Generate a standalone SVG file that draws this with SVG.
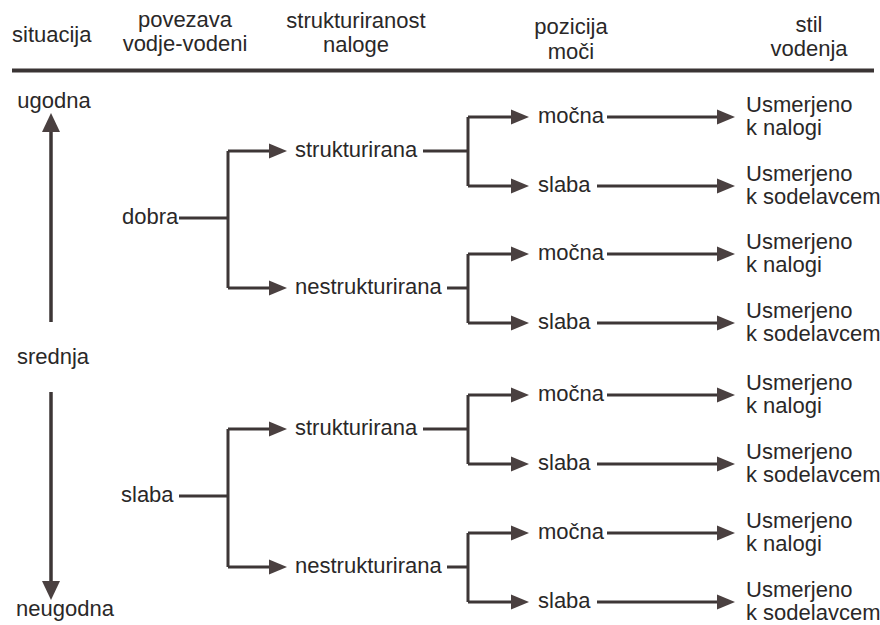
<svg xmlns="http://www.w3.org/2000/svg" width="880" height="625" viewBox="0 0 880 625">
<style>
text{font-family:"Liberation Sans",Arial,sans-serif;font-size:22px;fill:#2a2828}
.c{text-anchor:middle}
.ln{fill:none;stroke:#3d3636;stroke-width:3}
.ar{fill:none;stroke:#3d3636;stroke-width:3;marker-end:url(#ah)}
.va{fill:none;stroke:#3d3636;stroke-width:3.5;marker-end:url(#vh)}
</style>
<defs>
<marker id="ah" markerUnits="userSpaceOnUse" markerWidth="18" markerHeight="16" refX="0" refY="8" orient="auto">
<path d="M0,0.5 L18,8 L0,15.5 z" fill="#4a4040"/>
</marker>
<marker id="vh" markerUnits="userSpaceOnUse" markerWidth="19" markerHeight="19" refX="0" refY="9.5" orient="auto">
<path d="M0,0.5 L19,9.5 L0,18.5 z" fill="#4a4040"/>
</marker>
</defs>
<rect width="880" height="625" fill="#fff"/>
<g id="header">
<text x="12" y="42">situacija</text>
<text class="c" x="185" y="27">povezava</text>
<text class="c" x="185" y="51">vodje-vodeni</text>
<text class="c" x="356" y="28">strukturiranost</text>
<text class="c" x="356" y="52">naloge</text>
<text class="c" x="571" y="34">pozicija</text>
<text class="c" x="571" y="59">moči</text>
<text class="c" x="809" y="32">stil</text>
<text class="c" x="809" y="56">vodenja</text>
<line x1="12" y1="70.5" x2="874" y2="70.5" stroke="#3a3434" stroke-width="4"/>
</g>
<g id="axis-labels">
<text id="ugodna" class="c" x="54" y="108">ugodna</text>
<text id="srednja" class="c" x="53" y="364">srednja</text>
<text id="neugodna" class="c" x="65" y="616">neugodna</text>
</g>
<g id="connectors">
<path class="va" d="M51,322 V132"/>
<path class="va" d="M51,392 V581"/>
<path class="ln" d="M179,218 H228 M228,151 V288"/>
<path class="ar" d="M228,151 H269"/>
<path class="ar" d="M228,288 H269"/>
<path class="ln" d="M179,496 H228 M228,429 V567"/>
<path class="ar" d="M228,429 H269"/>
<path class="ar" d="M228,567 H269"/>
<path class="ln" d="M423,151 H468 M468,117 V186"/>
<path class="ar" d="M468,117 H511"/>
<path class="ar" d="M468,186 H511"/>
<path class="ln" d="M447,288 H468 M468,254 V323"/>
<path class="ar" d="M468,254 H511"/>
<path class="ar" d="M468,323 H511"/>
<path class="ln" d="M423,429 H468 M468,395 V464"/>
<path class="ar" d="M468,395 H511"/>
<path class="ar" d="M468,464 H511"/>
<path class="ln" d="M447,567 H468 M468,533 V602"/>
<path class="ar" d="M468,533 H511"/>
<path class="ar" d="M468,602 H511"/>
<path class="ar" d="M607,117 H717"/>
<path class="ar" d="M597,186 H717"/>
<path class="ar" d="M607,254 H717"/>
<path class="ar" d="M597,323 H717"/>
<path class="ar" d="M607,395 H717"/>
<path class="ar" d="M597,464 H717"/>
<path class="ar" d="M607,533 H717"/>
<path class="ar" d="M597,602 H717"/>
</g>
<g id="n-dobra"><text x="122" y="224">dobra</text></g>
<g id="n-slaba"><text x="121" y="502">slaba</text></g>
<g id="n-str1"><text x="295" y="157">strukturirana</text></g>
<g id="n-nestr1"><text x="295" y="294">nestrukturirana</text></g>
<g id="n-str2"><text x="295" y="435">strukturirana</text></g>
<g id="n-nestr2"><text x="295" y="573">nestrukturirana</text></g>
<g id="n-m1"><text x="538" y="123">močna</text></g>
<g id="n-s1"><text x="538" y="192">slaba</text></g>
<g id="n-m2"><text x="538" y="260">močna</text></g>
<g id="n-s2"><text x="538" y="329">slaba</text></g>
<g id="n-m3"><text x="538" y="401">močna</text></g>
<g id="n-s3"><text x="538" y="470">slaba</text></g>
<g id="n-m4"><text x="538" y="539">močna</text></g>
<g id="n-s4"><text x="538" y="608">slaba</text></g>
<g id="r1"><text x="746" y="112">Usmerjeno</text><text x="746" y="135">k nalogi</text></g>
<g id="r2"><text x="746" y="181">Usmerjeno</text><text x="746" y="204">k sodelavcem</text></g>
<g id="r3"><text x="746" y="249">Usmerjeno</text><text x="746" y="272">k nalogi</text></g>
<g id="r4"><text x="746" y="318">Usmerjeno</text><text x="746" y="341">k sodelavcem</text></g>
<g id="r5"><text x="746" y="390">Usmerjeno</text><text x="746" y="413">k nalogi</text></g>
<g id="r6"><text x="746" y="459">Usmerjeno</text><text x="746" y="482">k sodelavcem</text></g>
<g id="r7"><text x="746" y="528">Usmerjeno</text><text x="746" y="551">k nalogi</text></g>
<g id="r8"><text x="746" y="597">Usmerjeno</text><text x="746" y="620">k sodelavcem</text></g>
</svg>
